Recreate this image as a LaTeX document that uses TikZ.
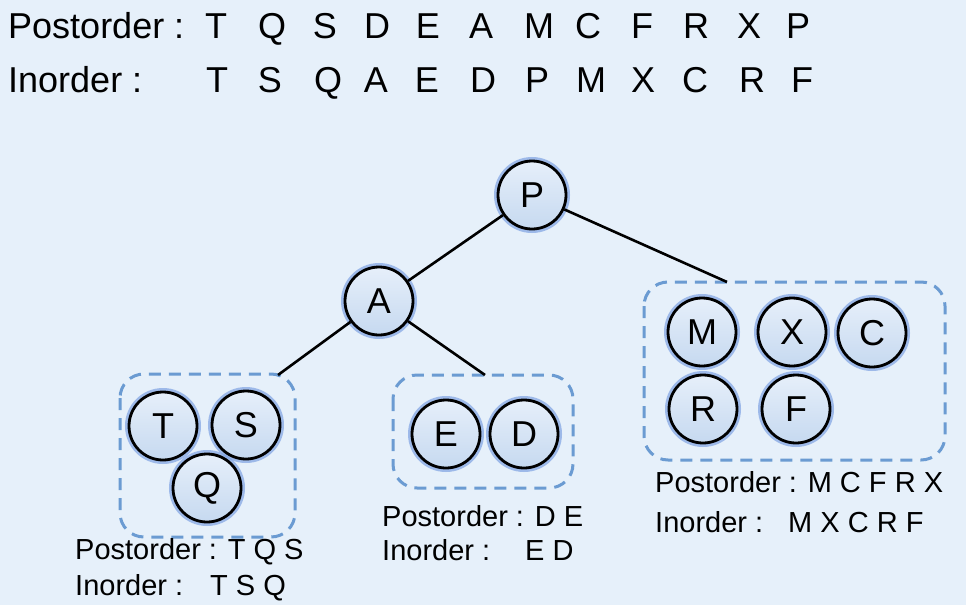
\documentclass[tikz,border=0pt]{standalone}
\usepackage{fontspec}
\setmainfont{Liberation Sans}
\definecolor{bgc}{HTML}{E6F0FA}
\definecolor{boxc}{HTML}{6B9BD2}
\definecolor{glowc}{HTML}{7FA3E3}
\definecolor{ntop}{HTML}{E6EFFA}
\definecolor{nbot}{HTML}{C6D9F0}
\tikzset{
  tn/.style={circle, minimum size=68pt, inner sep=0pt, draw=black, line width=2.8pt,
    top color=ntop, bottom color=nbot, font=\fontsize{36}{40}\selectfont,
    preaction={draw=glowc, line width=8pt, opacity=0.7}},
  grp/.style={draw=boxc, line width=3pt, dash pattern=on 12pt off 8pt, rounded corners=24pt},
  edge/.style={draw=black, line width=2.6pt},
  big/.style={anchor=base, inner sep=0pt, font=\fontsize{36}{40}\selectfont},
  bigw/.style={anchor=base west, inner sep=0pt, font=\fontsize{36}{40}\selectfont},
  lbl/.style={anchor=base west, inner sep=0pt, font=\fontsize{29}{32}\selectfont}
}
\begin{document}
\begin{tikzpicture}[x=1pt,y=-1pt]
\useasboundingbox[fill=bgc] (0,0) rectangle (966,605);
% top sequences
\node[bigw] (postl) at (8,38) {Postorder :};
\node[bigw] (inl) at (8,92) {Inorder :};
\foreach \c/\x [count=\i] in {T/216,Q/272,S/325,D/377,E/428,A/481,M/539,C/588,F/642,R/696,X/749,P/798}
  \node[big] (po\i) at (\x,38) {\c};
\foreach \c/\x [count=\i] in {T/217,S/270,Q/328,A/376,E/427,D/483,P/537,M/591,X/643,C/695,R/752,F/802}
  \node[big] (io\i) at (\x,92) {\c};
% groups
\draw[grp] (120,374) rectangle (295,537);
\draw[grp] (393,375) rectangle (573,488);
\draw[grp] (644,282) rectangle (945,460);
% tree nodes
\node[tn] (P) at (532,195) {P};
\node[tn] (A) at (379,301) {A};
\node[tn] (T) at (163,426) {T};
\node[tn] (S) at (246,425) {S};
\node[tn] (Q) at (207,488) {Q};
\node[tn] (E) at (446,434) {E};
\node[tn] (D) at (524,434) {D};
\node[tn] (M) at (702,332) {M};
\node[tn] (X) at (792,332) {X};
\node[tn] (C) at (872,333) {C};
\node[tn] (R) at (703,409) {R};
\node[tn] (F) at (796,409) {F};
% connector ends
\coordinate (g1) at (278,375);
\coordinate (g2) at (485,375);
\coordinate (g3) at (727,282);
\draw[edge] (P) -- (A);
\draw[edge] (P) -- (g3);
\draw[edge] (A) -- (g1);
\draw[edge] (A) -- (g2);
% labels
\node[lbl] (l1a) at (75,559) {Postorder : T Q S};
\node[lbl] (l1b) at (75,595) {Inorder :};
\node[lbl] (l1c) at (210,595) {T S Q};
\node[lbl] (l2a) at (382,526) {Postorder : D E};
\node[lbl] (l2b) at (382,560) {Inorder :};
\node[lbl] (l2c) at (525,560) {E D};
\node[lbl] (l3a) at (655,492) {Postorder : M C F R X};
\node[lbl] (l3b) at (655,532) {Inorder :};
\node[lbl] (l3c) at (788,532) {M X C R F};
\end{tikzpicture}
\end{document}
